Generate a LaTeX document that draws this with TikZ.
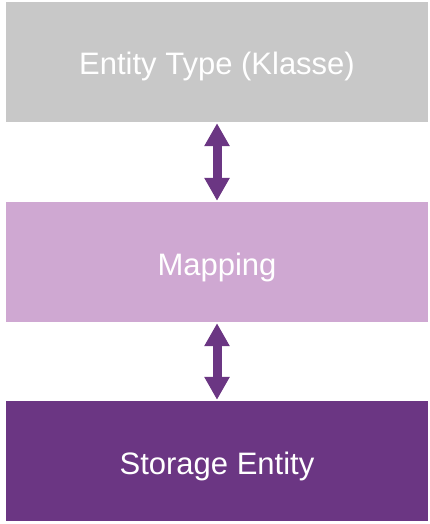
\documentclass[tikz,border=0pt]{standalone}
\usepackage{fontspec}
\setmainfont{Liberation Sans}
\usetikzlibrary{arrows.meta}
\definecolor{boxgray}{HTML}{C8C8C8}
\definecolor{lightpurple}{HTML}{CFA8D2}
\definecolor{darkpurple}{HTML}{6B3683}
\begin{document}
\begin{tikzpicture}[x=1pt,y=-1pt,
  layerbox/.style={minimum width=422pt,minimum height=120pt,inner sep=0pt,
    text height=26pt,text depth=0pt,
    text=white,font=\fontsize{31}{36}\selectfont},
  dblarrow/.style={draw=darkpurple,line width=9pt,
    {Triangle[width=24pt,length=23pt]}-{Triangle[width=24pt,length=23pt]}}]
\useasboundingbox (0,0) rectangle (430,524);
\node[layerbox,fill=boxgray] (top) at (217,62) {Entity Type (Klasse)};
\node[layerbox,fill=lightpurple] (mid) at (217,262) {Mapping};
\node[layerbox,fill=darkpurple] (bot) at (217,461) {Storage Entity};
\draw[dblarrow] ([yshift=-1pt]top.south) -- ([yshift=1pt]mid.north);
\draw[dblarrow] ([yshift=-1pt]mid.south) -- ([yshift=1pt]bot.north);
\end{tikzpicture}
\end{document}
